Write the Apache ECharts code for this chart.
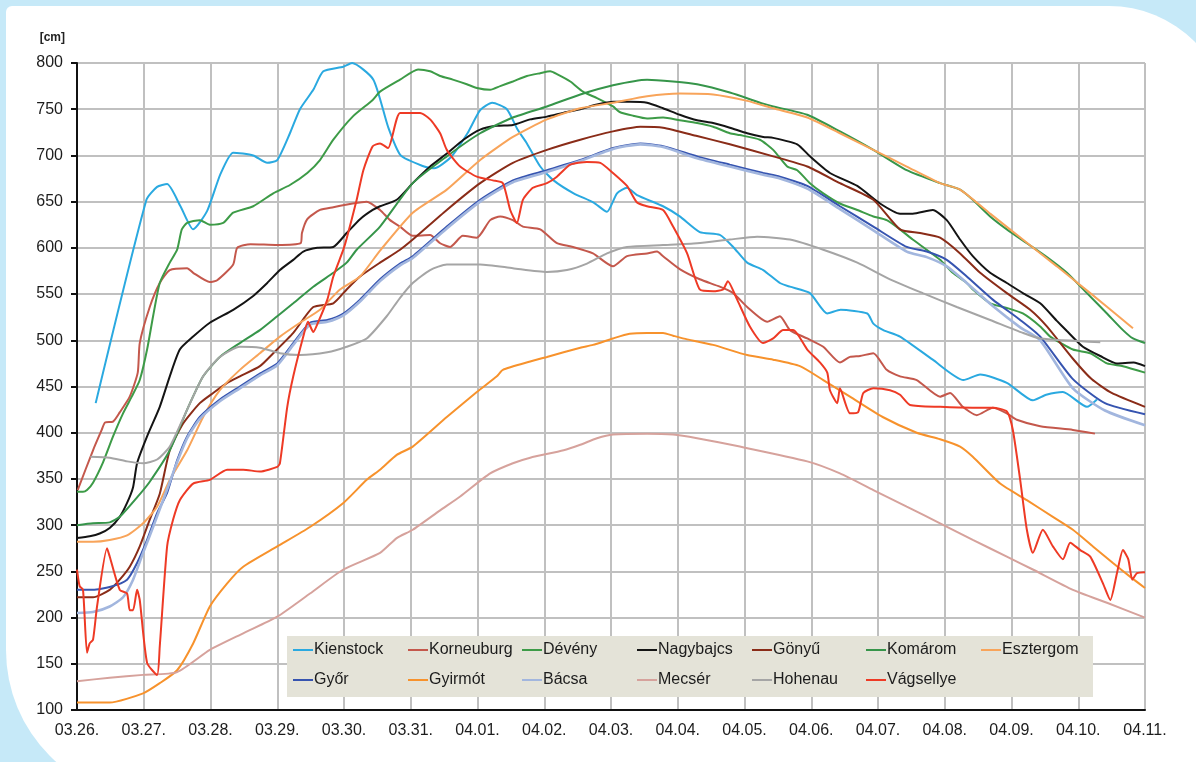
<!DOCTYPE html>
<html>
<head>
<meta charset="utf-8">
<title>Vízállások 03.26. - 04.11.</title>
<script src="https://cdn.jsdelivr.net/npm/echarts@6.0.0/dist/echarts.min.js"></script>
<style>
	html, body {
		margin: 0;
		padding: 0;
		width: 1196px;
		height: 762px;
		overflow: hidden;
		background: #c6e9f8;
	}
	#panel {
		position: absolute;
		left: 6px;
		top: 6px;
		width: 1224px;
		height: 794px;
		background: #fff;
		border-radius: 6px 121px 0 150px;
	}
	#chart {
		position: absolute;
		left: 0;
		top: 0;
		width: 1196px;
		height: 762px;
	}
</style>
</head>
<body>
<div id="panel"></div>
<div id="chart"></div>
<script>
	// x tick labels, one per day (x = days after 03.26.)
	var dateLabels = ['03.26.', '03.27.', '03.28.', '03.29.', '03.30.', '03.31.', '04.01.', '04.02.', '04.03.',
		'04.04.', '04.05.', '04.06.', '04.07.', '04.08.', '04.09.', '04.10.', '04.11.']

	// [day, cm]
	var kienstock = [[0.28,432],[1.04,652],[1.2,666],[1.35,669],[1.55,645],[1.74,620],[1.95,640],[2.15,680],[2.34,703],[2.64,700],[2.85,692],[3.0,695],[3.19,724],[3.34,750],[3.54,771],[3.69,791],[3.99,796],[4.12,800],[4.44,782],[4.66,731],[4.85,700],[5.2,688],[5.35,686],[5.6,698],[5.85,724],[6.04,749],[6.22,757],[6.44,750],[6.6,728],[6.74,713],[6.94,688],[7.14,673],[7.44,659],[7.74,649],[7.94,639],[8.09,659],[8.24,665],[8.39,657],[8.78,645],[9.03,634],[9.33,617],[9.63,614],[9.83,601],[10.04,584],[10.28,576],[10.53,562],[10.68,558],[10.98,551],[11.24,529],[11.44,533],[11.84,529],[11.93,518],[12.08,511],[12.33,504],[12.82,479],[13.28,457],[13.53,463],[13.93,454],[14.32,435],[14.52,441],[14.77,444],[15.13,428],[15.28,436]]
	var korneuburg = [[0.01,338],[0.24,381],[0.37,403],[0.42,411],[0.54,412],[0.64,422],[0.79,439],[0.91,465],[0.94,497],[1.09,536],[1.24,562],[1.39,576],[1.65,578],[1.74,573],[1.99,563],[2.1,565],[2.34,582],[2.4,600],[2.6,604],[3.0,603],[3.35,605],[3.37,616],[3.45,631],[3.64,641],[3.84,644],[4.13,648],[4.34,650],[4.54,641],[4.69,630],[4.84,623],[5.03,613],[5.29,614],[5.44,605],[5.59,601],[5.78,613],[5.99,611],[6.19,630],[6.34,634],[6.53,630],[6.68,623],[6.94,620],[7.19,605],[7.43,601],[7.73,594],[8.03,580],[8.24,591],[8.54,594],[8.69,596],[8.78,591],[9.03,577],[9.33,566],[9.63,558],[9.83,551],[10.04,536],[10.34,520],[10.53,526],[10.68,511],[10.94,502],[11.18,493],[11.43,476],[11.58,482],[11.73,483],[11.93,486],[12.13,468],[12.33,461],[12.58,457],[12.93,439],[13.08,443],[13.27,428],[13.48,419],[13.72,427],[13.93,421],[14.08,414],[14.43,407],[14.92,403],[15.25,399]]
	var deveny = [[0,336],[0.09,336],[0.15,338],[0.24,346],[0.39,368],[0.54,396],[0.69,421],[0.82,439],[0.94,457],[1.05,490],[1.14,526],[1.24,562],[1.39,584],[1.5,598],[1.57,620],[1.65,627],[1.84,630],[1.99,625],[2.19,627],[2.34,638],[2.64,645],[2.94,659],[3.19,668],[3.45,681],[3.64,695],[3.84,717],[4.13,742],[4.43,760],[4.54,769],[4.84,782],[5.11,793],[5.29,791],[5.44,786],[5.63,782],[5.84,777],[5.99,773],[6.19,771],[6.34,775],[6.53,780],[6.74,786],[6.94,789],[7.09,791],[7.19,788],[7.39,780],[7.58,769],[7.79,762],[8.03,753],[8.13,747],[8.33,743],[8.54,740],[8.78,741],[9.03,738],[9.29,735],[9.53,731],[9.78,724],[9.93,722],[10.23,717],[10.43,706],[10.64,688],[10.79,684],[10.98,670],[11.18,659],[11.43,648],[11.69,641],[11.93,634],[12.13,630],[12.33,620],[12.52,609],[12.73,598],[12.93,587],[13.12,573],[13.33,562],[13.42,555],[13.68,540],[13.93,535],[14.17,529],[14.43,515],[14.58,504],[14.92,490],[15.18,486],[15.43,475],[15.67,472],[16,465]]
	var nagybajcs = [[0,286],[0.19,288],[0.34,291],[0.49,297],[0.64,309],[0.75,324],[0.84,341],[0.9,367],[1.05,396],[1.24,428],[1.39,461],[1.54,490],[1.74,504],[1.99,519],[2.34,533],[2.64,548],[2.85,562],[3.04,576],[3.24,587],[3.39,596],[3.6,600],[3.84,601],[4.04,616],[4.24,631],[4.43,641],[4.54,645],[4.79,652],[5.03,670],[5.29,688],[5.54,702],[5.79,717],[6.04,728],[6.29,732],[6.53,733],[6.79,739],[7.04,742],[7.28,746],[7.54,750],[7.79,755],[8.03,758],[8.28,758],[8.54,757],[8.78,751],[9.03,744],[9.29,738],[9.53,735],[9.78,730],[10.04,724],[10.28,720],[10.43,719],[10.79,712],[10.98,699],[11.28,681],[11.69,667],[12.03,648],[12.33,637],[12.52,637],[12.82,641],[13.03,630],[13.23,609],[13.42,591],[13.68,573],[13.93,562],[14.17,551],[14.43,540],[14.68,521],[14.83,510],[15.07,493],[15.33,483],[15.58,475],[15.83,476],[16,472]]
	var gonyu = [[0,222],[0.24,222],[0.49,230],[0.64,241],[0.79,255],[0.94,277],[1.09,306],[1.24,334],[1.39,381],[1.59,410],[1.84,432],[2.04,443],[2.25,454],[2.44,461],[2.74,472],[2.94,486],[3.24,508],[3.54,536],[3.84,540],[4.04,555],[4.24,569],[4.54,584],[4.84,598],[5.03,609],[5.54,641],[6.04,670],[6.53,692],[7.04,706],[7.54,717],[8.03,726],[8.44,731],[8.78,730],[9.29,721],[9.78,712],[10.43,699],[10.94,688],[11.43,670],[11.93,652],[12.33,620],[12.63,616],[12.93,611],[13.23,594],[13.53,573],[13.93,551],[14.28,533],[14.53,515],[14.92,480],[15.2,458],[15.5,443],[16,428]]
	var komarom = [[0,300],[0.24,302],[0.49,303],[0.64,309],[0.9,330],[1.09,347],[1.39,381],[1.65,425],[1.89,461],[2.14,482],[2.44,497],[2.74,511],[3.0,526],[3.24,540],[3.54,558],[3.84,573],[4.04,584],[4.19,598],[4.54,623],[5.03,670],[5.54,699],[6.04,724],[6.53,741],[7.04,753],[7.54,766],[8.03,776],[8.54,782],[8.93,780],[9.29,777],[9.78,768],[10.28,756],[10.43,753],[10.94,744],[11.43,726],[11.93,706],[12.43,684],[12.93,670],[13.23,663],[13.42,652],[13.68,634],[13.93,620],[14.23,605],[14.53,590],[14.83,573],[15.13,551],[15.43,529],[15.67,511],[15.82,502],[16,497]]
	var esztergom = [[0,282],[0.24,282],[0.49,284],[0.75,289],[0.99,302],[1.2,320],[1.39,349],[1.65,381],[1.89,417],[2.14,446],[2.44,468],[2.74,486],[3.04,504],[3.34,519],[3.64,533],[3.94,555],[4.24,569],[4.54,597],[5.03,638],[5.54,663],[6.04,695],[6.53,720],[7.04,739],[7.54,751],[8.03,757],[8.54,764],[9.03,767],[9.53,766],[10.04,759],[10.43,751],[10.94,741],[11.43,724],[11.93,706],[12.43,688],[12.93,670],[13.23,663],[13.68,637],[14.17,609],[14.68,580],[15.18,551],[15.67,522],[15.82,513]]
	var gyor = [[0,230],[0.24,230],[0.49,233],[0.75,241],[0.9,259],[1.05,284],[1.2,313],[1.35,335],[1.5,370],[1.65,396],[1.84,417],[2.14,436],[2.44,450],[2.74,464],[3.0,475],[3.24,497],[3.49,519],[3.75,522],[3.99,529],[4.24,544],[4.54,566],[4.84,583],[5.03,591],[5.54,623],[6.04,652],[6.53,673],[7.04,684],[7.54,695],[8.03,708],[8.44,713],[8.78,710],[9.29,699],[9.78,690],[10.28,681],[10.53,677],[10.94,667],[11.43,645],[11.93,623],[12.43,601],[12.73,596],[13.03,587],[13.33,569],[13.72,544],[14.13,522],[14.43,504],[14.92,458],[15.4,432],[16,420]]
	var gyirmot = [[0,108],[0.49,108],[0.99,118],[1.24,129],[1.5,143],[1.74,172],[1.99,212],[2.25,237],[2.49,255],[3.0,277],[3.49,298],[3.99,324],[4.34,349],[4.54,360],[4.79,376],[5.03,385],[5.54,417],[5.99,444],[6.29,461],[6.38,468],[6.79,477],[7.04,482],[7.54,492],[7.73,495],[8.03,502],[8.28,507],[8.54,508],[8.78,508],[8.93,505],[9.14,501],[9.53,495],[10.04,484],[10.43,479],[10.83,472],[11.18,457],[11.58,439],[12.07,417],[12.58,400],[12.93,393],[13.23,385],[13.42,374],[13.83,345],[14.23,327],[14.62,309],[14.92,295],[15.22,277],[15.52,259],[15.78,244],[16,232]]
	var bacsa = [[0,205],[0.24,206],[0.49,212],[0.69,222],[0.84,241],[0.99,270],[1.14,298],[1.29,327],[1.5,368],[1.65,394],[1.84,415],[2.14,434],[2.44,448],[2.74,462],[3.0,473],[3.24,495],[3.49,517],[3.75,520],[3.99,527],[4.24,542],[4.54,564],[4.84,581],[5.03,589],[5.54,621],[6.04,650],[6.53,671],[7.04,682],[7.54,694],[8.03,707],[8.44,712],[8.78,709],[9.29,697],[9.78,688],[10.28,679],[10.53,675],[10.94,664],[11.43,642],[11.93,619],[12.43,596],[12.73,590],[13.03,580],[13.33,562],[13.72,537],[14.13,514],[14.43,500],[14.92,448],[15.4,424],[16,408]]
	var mecser = [[0,131],[0.49,135],[0.99,138],[1.5,141],[1.99,165],[2.49,183],[3.0,201],[3.49,226],[3.99,252],[4.54,270],[4.79,286],[5.03,295],[5.44,316],[5.74,331],[6.19,356],[6.53,367],[6.79,373],[7.29,381],[7.54,387],[7.79,394],[8.03,398],[8.54,399],[8.93,398],[9.29,394],[9.93,385],[10.94,369],[11.43,356],[11.93,338],[12.43,320],[12.93,302],[13.42,284],[13.93,266],[14.32,252],[14.92,230],[15.43,216],[16,200]]
	var hohenau = [[0.2,374],[0.49,373],[0.75,369],[0.99,367],[1.2,371],[1.39,385],[1.65,425],[1.89,461],[2.14,482],[2.44,493],[2.74,492],[3.04,486],[3.34,484],[3.75,487],[4.04,493],[4.34,502],[4.64,526],[4.84,546],[5.03,562],[5.29,576],[5.54,582],[6.04,582],[6.53,578],[7.04,574],[7.34,576],[7.64,583],[7.94,594],[8.24,601],[8.78,603],[9.29,605],[9.78,609],[10.19,612],[10.68,609],[11.18,598],[11.69,584],[12.18,566],[12.67,551],[13.18,536],[13.68,522],[14.17,508],[14.43,502],[15.33,498]]
	var vagsellye = [[0,252],[0.04,234],[0.09,230],[0.15,162],[0.19,172],[0.24,176],[0.3,212],[0.45,275],[0.49,266],[0.64,230],[0.75,226],[0.79,208],[0.84,208],[0.9,230],[0.94,219],[1.05,151],[1.2,138],[1.24,169],[1.35,277],[1.44,306],[1.54,327],[1.74,345],[1.99,349],[2.25,360],[2.49,360],[2.74,358],[3.0,363],[3.04,367],[3.15,428],[3.24,461],[3.39,504],[3.46,520],[3.54,509],[3.61,519],[3.75,544],[3.84,569],[3.99,598],[4.04,610],[4.19,652],[4.29,684],[4.43,710],[4.54,713],[4.66,708],[4.84,746],[5.14,746],[5.29,739],[5.44,724],[5.54,706],[5.74,688],[5.99,677],[6.23,673],[6.38,670],[6.49,641],[6.59,627],[6.68,652],[6.83,665],[7.04,670],[7.19,677],[7.39,690],[7.64,693],[7.84,692],[8.03,681],[8.24,667],[8.39,649],[8.54,645],[8.78,641],[8.93,623],[9.14,594],[9.33,555],[9.53,553],[9.68,555],[9.75,564],[9.89,544],[10.08,515],[10.28,497],[10.43,502],[10.58,511],[10.73,511],[10.94,490],[11.13,476],[11.24,465],[11.28,446],[11.39,432],[11.43,448],[11.58,421],[11.7,422],[11.78,443],[11.93,448],[12.18,446],[12.33,441],[12.48,430],[12.93,428],[13.42,427],[13.72,427],[13.93,423],[14.02,403],[14.13,349],[14.23,295],[14.32,270],[14.47,295],[14.62,277],[14.77,263],[14.88,281],[15.03,273],[15.18,266],[15.37,237],[15.48,219],[15.58,248],[15.67,273],[15.75,263],[15.81,241],[15.88,248],[16,249]]

	var stations = [
		{ name: 'Kienstock', data: kienstock, color: '#2aa9e0' },
		{ name: 'Korneuburg', data: korneuburg, color: '#c4584c' },
		{ name: 'Dévény', data: deveny, color: '#3d9b47' },
		{ name: 'Nagybajcs', data: nagybajcs, color: '#141414' },
		{ name: 'Gönyű', data: gonyu, color: '#8a2c18' },
		{ name: 'Komárom', data: komarom, color: '#36954a' },
		{ name: 'Esztergom', data: esztergom, color: '#f8a45a' },
		{ name: 'Győr', data: gyor, color: '#3654b0' },
		{ name: 'Gyirmót', data: gyirmot, color: '#f7922c' },
		{ name: 'Bácsa', data: bacsa, color: '#a2b6de' },
		{ name: 'Mecsér', data: mecser, color: '#d6a29c' },
		{ name: 'Hohenau', data: hohenau, color: '#a5a5a5' },
		{ name: 'Vágsellye', data: vagsellye, color: '#ee3a25' }
	]

	// legend columns like the excel box
	var legendCols = [
		['Kienstock', 'Győr'],
		['Korneuburg', 'Gyirmót'],
		['Dévény', 'Bácsa'],
		['Nagybajcs', 'Mecsér'],
		['Gönyű', 'Hohenau'],
		['Komárom', 'Vágsellye'],
		['Esztergom']
	]
	var legendLeft = [293, 408, 522, 637, 752, 866, 981]

	var font = '"Liberation Sans", Arial, sans-serif'

	var chart = echarts.init(document.getElementById('chart'), null, { renderer: 'canvas' })

	var option = {
		animation: false,
		backgroundColor: 'transparent',
		textStyle: { fontFamily: font },
		grid: { left: 77, right: 51, top: 63, bottom: 52 },
		xAxis: {
			type: 'value',
			min: 0,
			max: 16,
			interval: 1,
			axisLine: { lineStyle: { color: '#111', width: 2 } },
			axisTick: { show: false },
			axisLabel: {
				color: '#1c1c1c',
				fontSize: 16,
				margin: 13,
				fontFamily: font,
				formatter: function (v) { return dateLabels[v] }
			},
			splitLine: { show: true, lineStyle: { color: '#c0c0c0', width: 2 } }
		},
		yAxis: {
			type: 'value',
			min: 100,
			max: 800,
			interval: 50,
			name: '[cm]',
			nameLocation: 'end',
			nameGap: 19,
			nameTextStyle: { fontSize: 12, fontWeight: 'bold', color: '#222', align: 'right', padding: [0, 12, 0, 0], fontFamily: font },
			axisLine: { show: true, lineStyle: { color: '#111', width: 2 } },
			axisTick: { show: true, length: 6, lineStyle: { color: '#111', width: 2 } },
			axisLabel: { color: '#1c1c1c', fontSize: 16, margin: 14, fontFamily: font },
			splitLine: { show: true, lineStyle: { color: '#c0c0c0', width: 2 } }
		},
		graphic: [{
			type: 'rect',
			left: 287,
			top: 636,
			z: 3,
			shape: { width: 806, height: 61 },
			style: { fill: '#e4e3d8' }
		}],
		legend: legendCols.map(function (col, i) {
			return {
				orient: 'vertical',
				left: legendLeft[i],
				top: 640,
				padding: 0,
				itemGap: 10,
				itemWidth: 20,
				itemHeight: 2,
				icon: 'rect',
				selectedMode: false,
				z: 5,
				textStyle: { fontSize: 16, color: '#1c1c1c', lineHeight: 20, fontFamily: font, padding: [0, 0, 0, -4] },
				data: col
			}
		}),
		series: stations.map(function (s) {
			return {
				name: s.name,
				type: 'line',
				data: s.data,
				showSymbol: false,
				smooth: 0.2,
				color: s.color,
				lineStyle: { color: s.color, width: s.name == 'Bácsa' ? 2.6 : 2 },
				emphasis: { disabled: true }
			}
		})
	}

	chart.setOption(option)
</script>
</body>
</html>
